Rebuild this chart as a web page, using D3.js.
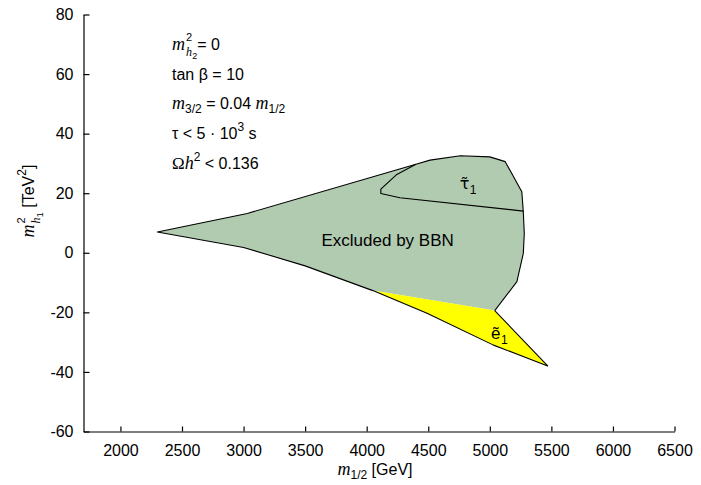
<!DOCTYPE html>
<html><head><meta charset="utf-8">
<script src="https://cdn.jsdelivr.net/npm/d3@7"></script>
<style>
body{margin:0;background:#fff}
svg{display:block}
text{fill:#000}
</style>
</head><body>
<svg id="c" width="701" height="485"></svg>
<script>
// ---- data ----
const xTickValues = [2000, 2500, 3000, 3500, 4000, 4500, 5000, 5500, 6000, 6500];
const yTickValues = [-60, -40, -20, 0, 20, 40, 60, 80];
// Excluded by BBN region (starts at the junction with the selectron region)
const excludedM12 = [5040, 4050, 3500, 3000, 2300, 3030, 4400, 4515, 4760, 5000, 5125, 5260, 5272, 5280, 5272, 5220];
const excludedMh1 = [-19.4, -12.7, -4.4, 1.8, 7.0, 13.2, 29.7, 31.1, 32.6, 32.2, 30.6, 20.5, 13.8, 6.5, -0.2, -9.7];
// selectron NLSP region (yellow)
const selectronM12 = [4050, 5040, 5470, 5030, 4490];
const selectronMh1 = [-12.7, -19.4, -38.0, -31.0, -20.3];
// stau boundary line
const stauM12 = [4400, 4245, 4115, 4115, 4270, 5272];
const stauMh1 = [29.7, 26.3, 21.4, 19.9, 18.5, 14.0];

const SANS = '"Liberation Sans", Arial, Helvetica, sans-serif';
const SERIF = '"Liberation Serif", "Times New Roman", serif';

const svg = d3.select('#c');
const x = d3.scaleLinear().domain([1700, 6500]).range([83.5, 674.5]);
const y = d3.scaleLinear().domain([-60, 80]).range([431.5, 14.5]);

const pts = (a, b) => a.map((v, i) => [v, b[i]]);
const line = d3.line().x(d => x(d[0])).y(d => y(d[1]));

// fills
const exc = pts(excludedM12, excludedMh1);
const sel = pts(selectronM12, selectronMh1);
svg.append('path').attr('d', line(exc) + 'Z').attr('fill', '#b1cbb1').attr('stroke', 'none');
svg.append('path').attr('d', line(sel) + 'Z').attr('fill', '#ffff00').attr('stroke', 'none');
// outlines (no line on the green/yellow interface)
svg.append('path').attr('d', line(exc.slice(1).concat([exc[0]]))).attr('fill', 'none').attr('stroke', '#000').attr('stroke-width', 1.1).attr('stroke-linejoin', 'round');
svg.append('path').attr('d', line(sel.slice(1).concat([sel[0]]))).attr('fill', 'none').attr('stroke', '#000').attr('stroke-width', 1.1).attr('stroke-linejoin', 'round');
svg.append('path').attr('d', line(pts(stauM12, stauMh1))).attr('fill', 'none').attr('stroke', '#000').attr('stroke-width', 1.1).attr('stroke-linejoin', 'round');

// axes
const xAxis = svg.append('g').attr('transform', `translate(0,${y(-60)})`)
  .call(d3.axisBottom(x).tickValues(xTickValues).tickFormat(d => String(d)).tickSizeInner(-5).tickSizeOuter(0).tickPadding(13));
const yAxis = svg.append('g').attr('transform', `translate(${x(1700)},0)`)
  .call(d3.axisLeft(y).tickValues(yTickValues).tickFormat(d => String(d)).tickSizeInner(-6).tickSizeOuter(0).tickPadding(10));
[xAxis, yAxis].forEach(g => {
  g.attr('font-family', SANS).attr('font-size', 16);
  g.selectAll('path,line').attr('stroke', '#000').attr('stroke-width', 1.2);
  g.selectAll('text').attr('fill', '#000');
});

// rich text helper: runs placed left to right, optional stacking
function rich(parent, runs, anchor) {
  const g = parent.append('g');
  let cx = 0, pStart = 0, pEnd = 0;
  runs.forEach(r => {
    const t = g.append('text').text(r.t)
      .attr('font-family', r.serif ? SERIF : SANS)
      .attr('font-style', r.it ? 'italic' : 'normal')
      .attr('font-size', r.size || 16)
      .attr('y', r.dy || 0);
    let start = r.stack ? pStart : cx;
    start += (r.dx || 0);
    t.attr('x', start);
    const w = t.node().getComputedTextLength();
    let end = start + w;
    if (r.stack) end = Math.max(end, pEnd);
    if (!r.stack) pStart = start;
    pEnd = end;
    cx = end;
  });
  if (anchor === 'middle') g.selectAll('text').attr('transform', `translate(${-cx / 2},0)`);
  return g;
}

// annotation block
const ax0 = 172;
rich(svg.append('g').attr('transform', `translate(${ax0},50)`), [
  {t: 'm', it: true, serif: true, size: 18},
  {t: '2', size: 11, dy: -9, dx: 1},
  {t: 'h', it: true, serif: true, size: 12, dy: 6, stack: true},
  {t: '2', size: 9, dy: 9},
  {t: '= 0', size: 16}
]);
rich(svg.append('g').attr('transform', `translate(${ax0},80)`), [
  {t: 'tan β = 10', size: 16}
]);
rich(svg.append('g').attr('transform', `translate(${ax0},109)`), [
  {t: 'm', it: true, serif: true, size: 18},
  {t: '3/2', size: 12, dy: 4},
  {t: '\u00a0= 0.04\u00a0', size: 16},
  {t: 'm', it: true, serif: true, size: 18},
  {t: '1/2', size: 12, dy: 4}
]);
rich(svg.append('g').attr('transform', `translate(${ax0},139)`), [
  {t: 'τ < 5 · 10', size: 16},
  {t: '3', size: 12, dy: -8},
  {t: '\u00a0s', size: 16}
]);
rich(svg.append('g').attr('transform', `translate(${ax0},169)`), [
  {t: 'Ω', size: 17, serif: true},
  {t: 'h', it: true, serif: true, size: 18},
  {t: '2', size: 12, dy: -8},
  {t: '\u00a0< 0.136', size: 16}
]);

// x axis title
rich(svg.append('g').attr('transform', `translate(${(x(1700) + x(6500)) / 2 - 4},475)`), [
  {t: 'm', it: true, serif: true, size: 18},
  {t: '1/2', size: 12, dy: 4},
  {t: '\u00a0[GeV]', size: 16}
], 'middle');

// y axis title
rich(svg.append('g').attr('transform', `translate(34,${(y(80) + y(-60)) / 2 - 22}) rotate(-90)`), [
  {t: 'm', it: true, serif: true, size: 18},
  {t: '2', size: 11, dy: -9, dx: 1},
  {t: 'h', it: true, serif: true, size: 12, dy: 6, stack: true},
  {t: '1', size: 9, dy: 9},
  {t: '\u00a0[TeV', size: 16},
  {t: '2', size: 12, dy: -8},
  {t: ']', size: 16}
], 'middle');

// region labels
svg.append('text').attr('x', x(4170)).attr('y', y(4.3) + 6).attr('text-anchor', 'middle')
  .attr('font-family', SANS).attr('font-size', 17).text('Excluded by BBN');

function tildeLabel(sym, xv, yv, fam, size) {
  const g = svg.append('g').attr('transform', `translate(${x(xv)},${y(yv)})`);
  const t = g.append('text').attr('font-family', fam).attr('font-size', size).text(sym + '\u0303');
  const w = t.node().getComputedTextLength();
  g.append('text').attr('x', w + 0.5).attr('y', 5).attr('font-family', SANS).attr('font-size', 12).text('1');
}
tildeLabel('τ', 4755, 21.5, '"DejaVu Sans", sans-serif', 16);
tildeLabel('e', 5010, -29.0, SANS, 17);
</script>
</body></html>
